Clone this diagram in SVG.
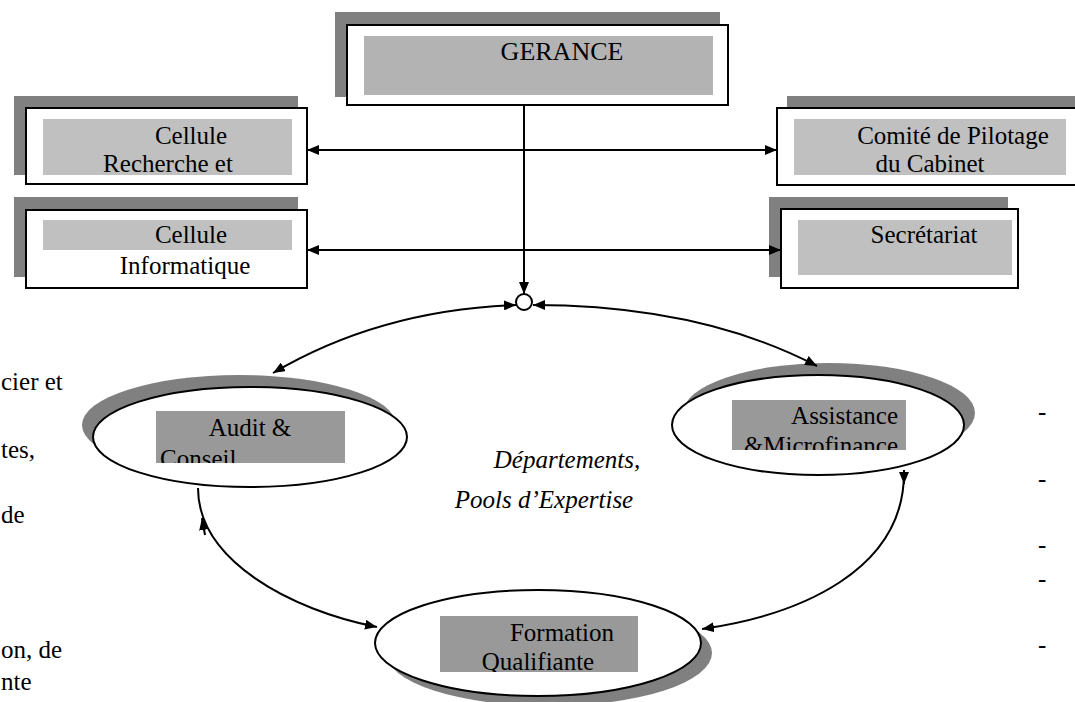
<svg xmlns="http://www.w3.org/2000/svg" width="1075" height="702" viewBox="0 0 1075 702">
<style>
.sh{fill:#808080}
.box{fill:#fff;stroke:#000;stroke-width:2}
.in1{fill:#c0c0c0}
.in2{fill:#999999}
.ell{fill:#fff;stroke:#000;stroke-width:2}
.con{fill:none;stroke:#000;stroke-width:2}
</style>
<defs>
<marker id="ah" viewBox="0 0 12 10" refX="12" refY="5" markerWidth="12" markerHeight="10" markerUnits="userSpaceOnUse" orient="auto-start-reverse">
<path d="M0,0 L12,5 L0,10 Z" fill="#000"/>
</marker>
<clipPath id="cA"><rect x="156" y="411" width="189" height="52"/></clipPath>
<clipPath id="cB"><rect x="732" y="400" width="174" height="50"/></clipPath>
<clipPath id="cF"><rect x="440" y="616" width="198" height="56"/></clipPath>
</defs>

<g id="gerance">
<rect class="sh" x="335" y="12" width="385" height="85"/>
<rect class="box" x="347" y="25" width="381" height="80"/>
<rect x="364" y="36" width="349" height="59" fill="#b3b3b3"/>
<text x="562" y="60" text-anchor="middle" font-family="Liberation Serif" font-size="26">GERANCE</text>
</g>

<g id="cellule-recherche">
<rect class="sh" x="14" y="96" width="284" height="79"/>
<rect class="box" x="26" y="108" width="281" height="76"/>
<rect class="in1" x="43" y="119" width="249" height="56"/>
<text x="191" y="144" text-anchor="middle" font-family="Liberation Serif" font-size="25">Cellule</text>
<text x="168" y="172" text-anchor="middle" font-family="Liberation Serif" font-size="25">Recherche et</text>
</g>

<g id="cellule-informatique">
<rect class="sh" x="14" y="197" width="284" height="80"/>
<rect class="box" x="26" y="210" width="281" height="78"/>
<rect class="in1" x="43" y="220" width="249" height="30"/>
<text x="191" y="243" text-anchor="middle" font-family="Liberation Serif" font-size="25">Cellule</text>
<text x="185" y="274" text-anchor="middle" font-family="Liberation Serif" font-size="25">Informatique</text>
</g>

<g id="comite">
<rect class="sh" x="787" y="96" width="290" height="79"/>
<rect class="box" x="777" y="108" width="300" height="77"/>
<rect class="in1" x="794" y="119" width="272" height="56"/>
<text x="953" y="144" text-anchor="middle" font-family="Liberation Serif" font-size="25">Comité de Pilotage</text>
<text x="930" y="172" text-anchor="middle" font-family="Liberation Serif" font-size="25">du Cabinet</text>
</g>

<g id="secretariat">
<rect class="sh" x="769" y="197" width="239" height="80"/>
<rect class="box" x="781" y="209" width="237" height="79"/>
<rect class="in1" x="798" y="220" width="214" height="55"/>
<text x="924" y="243" text-anchor="middle" font-family="Liberation Serif" font-size="25">Secrétariat</text>
</g>

<g id="audit">
<ellipse class="sh" cx="239" cy="425" rx="157" ry="50"/>
<ellipse class="ell" cx="250" cy="437" rx="157" ry="50"/>
<rect class="in2" x="156" y="411" width="189" height="52"/>
<g clip-path="url(#cA)">
<text x="250" y="436" text-anchor="middle" font-family="Liberation Serif" font-size="25">Audit &amp;</text>
<text x="160" y="467" font-family="Liberation Serif" font-size="25">Conseil</text>
</g>
</g>

<g id="assistance">
<ellipse class="sh" cx="829" cy="413" rx="146" ry="50"/>
<ellipse class="ell" cx="818" cy="425" rx="146" ry="50"/>
<rect class="in2" x="732" y="400" width="174" height="50"/>
<g clip-path="url(#cB)">
<text x="898" y="424" text-anchor="end" font-family="Liberation Serif" font-size="25">Assistance</text>
<text x="898" y="454" text-anchor="end" font-family="Liberation Serif" font-size="25">&amp;Microfinance</text>
</g>
</g>

<g id="formation">
<ellipse class="sh" cx="549" cy="653" rx="163" ry="53"/>
<ellipse class="ell" cx="538" cy="643" rx="163" ry="53"/>
<rect class="in2" x="440" y="616" width="198" height="56"/>
<g clip-path="url(#cF)">
<text x="562" y="641" text-anchor="middle" font-family="Liberation Serif" font-size="25">Formation</text>
<text x="538" y="670" text-anchor="middle" font-family="Liberation Serif" font-size="25">Qualifiante</text>
</g>
</g>

<g id="hub">
<circle cx="524" cy="302" r="8" fill="#fff" stroke="#000" stroke-width="2"/>
</g>

<g id="connectors">
<line class="con" x1="307" y1="150" x2="777" y2="150" marker-start="url(#ah)" marker-end="url(#ah)"/>
<line class="con" x1="307" y1="250" x2="781" y2="250" marker-start="url(#ah)" marker-end="url(#ah)"/>
<line class="con" x1="524" y1="105" x2="524" y2="294" marker-end="url(#ah)"/>
<path class="con" d="M516,305 Q380,310 273,373" marker-start="url(#ah)" marker-end="url(#ah)"/>
<path class="con" d="M533,305 Q700,305 817,366" marker-start="url(#ah)" marker-end="url(#ah)"/>
<path class="con" d="M198,488 C198,560 290,610 377,627" marker-end="url(#ah)"/>
<path class="con" d="M205,535 L202,518" marker-end="url(#ah)"/>
<path class="con" d="M904,470 C906,570 800,615 702,629" marker-end="url(#ah)"/>
<path class="con" d="M904,470 L904,484" marker-end="url(#ah)"/>
</g>

<g id="center-label">
<text x="567" y="468" text-anchor="middle" font-family="Liberation Serif" font-style="italic" font-size="25">Départements,</text>
<text x="544" y="508" text-anchor="middle" font-family="Liberation Serif" font-style="italic" font-size="25">Pools  d’Expertise</text>
</g>

<g id="margin-text">
<text x="1" y="390" font-family="Liberation Serif" font-size="25">cier et</text>
<text x="1" y="458" font-family="Liberation Serif" font-size="25">tes,</text>
<text x="1" y="523" font-family="Liberation Serif" font-size="25">de</text>
<text x="1" y="658" font-family="Liberation Serif" font-size="25">on, de</text>
<text x="1" y="690" font-family="Liberation Serif" font-size="25">nte</text>
<text x="1038" y="420" font-family="Liberation Serif" font-size="25">-</text>
<text x="1038" y="487" font-family="Liberation Serif" font-size="25">-</text>
<text x="1038" y="553" font-family="Liberation Serif" font-size="25">-</text>
<text x="1038" y="587" font-family="Liberation Serif" font-size="25">-</text>
<text x="1038" y="653" font-family="Liberation Serif" font-size="25">-</text>
</g>
</svg>
